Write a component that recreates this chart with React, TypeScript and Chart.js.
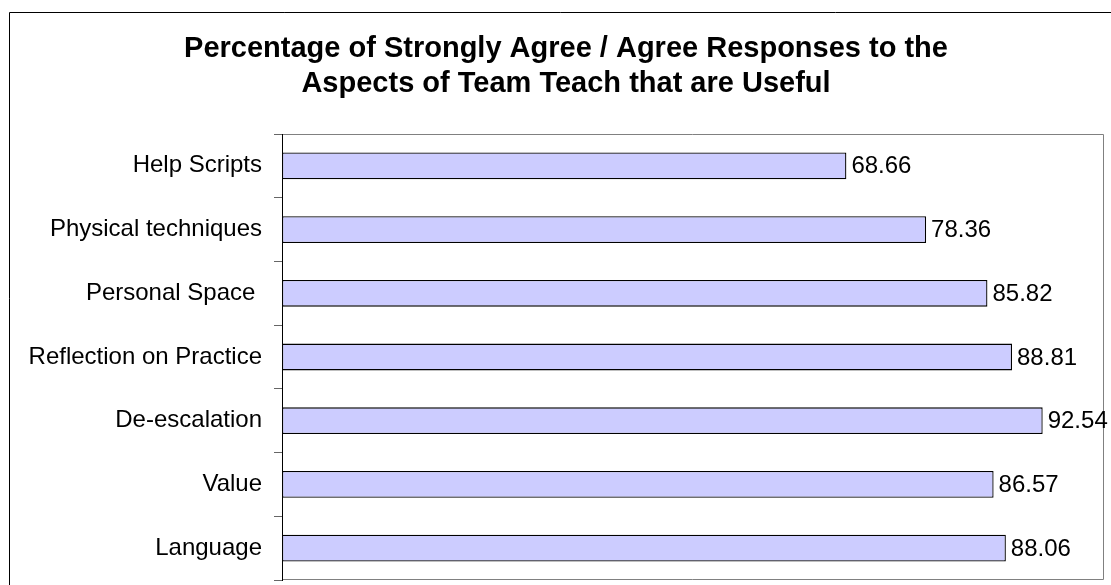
import React, { useEffect, useRef } from "react";
import { Chart, registerables } from "chart.js";

Chart.register(...registerables);

const categories = [
  "Help Scripts",
  "Physical techniques",
  "Personal Space ",
  "Reflection on Practice",
  "De-escalation",
  "Value",
  "Language",
];
const values = [68.66, 78.36, 85.82, 88.81, 92.54, 86.57, 88.06];
const titleLines = [
  "Percentage of Strongly Agree / Agree Responses to the",
  "Aspects of Team Teach that are Useful",
];

const FONT = "'Liberation Sans', Arial, sans-serif";

const decorPlugin = {
  id: "decor",
  beforeDraw(chart: any) {
    const ctx = chart.ctx;
    const { left, right, top, bottom } = chart.chartArea;
    ctx.save();
    // outer chart border
    ctx.strokeStyle = "#000";
    ctx.lineWidth = 1;
    ctx.beginPath();
    ctx.moveTo(9.5, chart.height);
    ctx.lineTo(9.5, 12.5);
    ctx.lineTo(chart.width, 12.5);
    ctx.stroke();
    // plot area border (gray)
    ctx.strokeStyle = "#808080";
    ctx.beginPath();
    ctx.moveTo(left, top + 0.5);
    ctx.lineTo(right - 0.5, top + 0.5);
    ctx.lineTo(right - 0.5, bottom - 0.5);
    ctx.lineTo(left, bottom - 0.5);
    ctx.stroke();
    // title
    ctx.fillStyle = "#000";
    ctx.font = `bold 29px ${FONT}`;
    ctx.textAlign = "center";
    ctx.textBaseline = "alphabetic";
    ctx.fillText(titleLines[0], 566, 57);
    ctx.fillText(titleLines[1], 566, 92);
    ctx.restore();
  },
  afterDatasetsDraw(chart: any) {
    const ctx = chart.ctx;
    const meta = chart.getDatasetMeta(0);
    ctx.save();
    ctx.fillStyle = "#000";
    ctx.font = `24px ${FONT}`;
    ctx.textAlign = "left";
    ctx.textBaseline = "middle";
    meta.data.forEach((bar: any, i: number) => {
      ctx.fillText(values[i].toFixed(2), bar.x + 5, bar.y + 1);
    });
    ctx.restore();
  },
};

export default function App() {
  const ref = useRef<HTMLCanvasElement>(null);
  useEffect(() => {
    if (!ref.current) return;
    const chart = new Chart(ref.current, {
      type: "bar",
      data: {
        labels: categories,
        datasets: [
          {
            data: values,
            backgroundColor: "#CCCCFF",
            borderColor: "#000000",
            borderWidth: 1.3,
            borderSkipped: false,
            barPercentage: 0.42,
            categoryPercentage: 1,
          },
        ],
      },
      options: {
        indexAxis: "y",
        animation: false,
        responsive: false,
        maintainAspectRatio: false,
        layout: { padding: { left: 0, top: 134, right: 7, bottom: 5 } },
        plugins: {
          legend: { display: false },
          title: { display: false },
          tooltip: { enabled: false },
        },
        scales: {
          x: { display: false, min: 0, max: 100 },
          y: {
            afterFit(scale: any) {
              scale.width = 282;
              scale.paddingTop = 0;
              scale.paddingBottom = 0;
            },
            grid: {
              offset: true,
              drawOnChartArea: false,
              drawTicks: true,
              tickLength: 8,
              color: "#666666",
            },
            border: { display: true, color: "#000", width: 1 },
            ticks: {
              padding: 12,
              color: "#000",
              font: { family: FONT, size: 24 },
            },
          },
        },
      },
      plugins: [decorPlugin],
    });
    return () => chart.destroy();
  }, []);
  return (
    <div style={{ position: "absolute", left: 0, top: 0, width: 1111, height: 585, background: "#fff" }}>
      <canvas ref={ref} width={1111} height={585} style={{ width: 1111, height: 585, display: "block" }} />
    </div>
  );
}
